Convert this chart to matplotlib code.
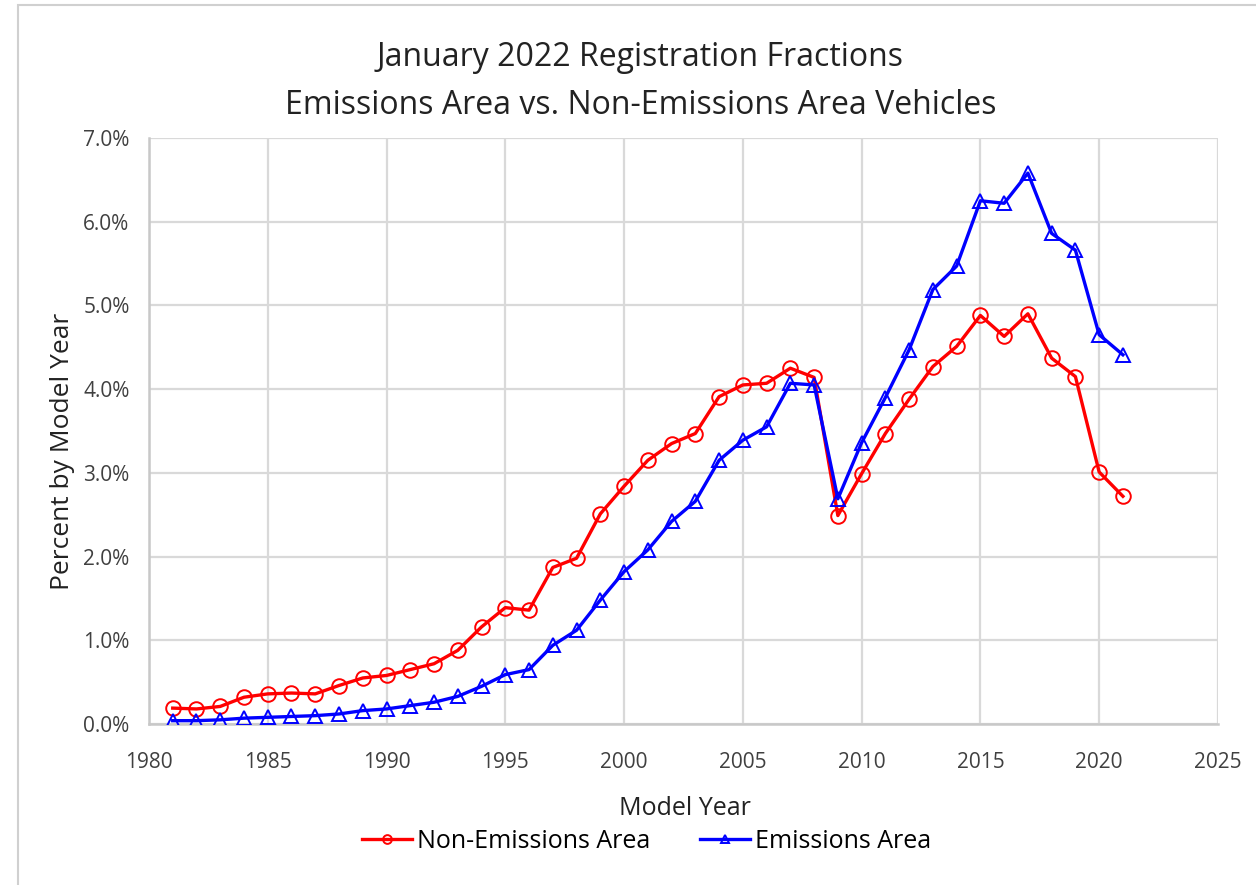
import numpy as np
import matplotlib.pyplot as plt
from matplotlib.ticker import FuncFormatter, MultipleLocator
from matplotlib.patches import Rectangle

years = list(range(1981, 2022))

# percent of registrations by model year
non_emissions = [0.19, 0.18, 0.21, 0.32, 0.36, 0.37, 0.36, 0.46, 0.55, 0.58,
                 0.65, 0.72, 0.88, 1.16, 1.39, 1.36, 1.87, 1.98, 2.51, 2.84,
                 3.15, 3.35, 3.47, 3.91, 4.05, 4.07, 4.25, 4.14, 2.49, 2.99,
                 3.47, 3.88, 4.27, 4.51, 4.88, 4.63, 4.90, 4.37, 4.15, 3.01,
                 2.72]
emissions = [0.04, 0.04, 0.05, 0.07, 0.08, 0.09, 0.10, 0.12, 0.16, 0.18,
             0.22, 0.26, 0.33, 0.45, 0.59, 0.65, 0.94, 1.12, 1.48, 1.82,
             2.08, 2.42, 2.66, 3.15, 3.39, 3.55, 4.07, 4.05, 2.69, 3.36,
             3.90, 4.47, 5.19, 5.47, 6.25, 6.22, 6.58, 5.86, 5.66, 4.65,
             4.41]

plt.rcParams['font.family'] = ['Open Sans', 'DejaVu Sans']

fig = plt.figure(figsize=(12.56, 8.85), dpi=100)
ax = fig.add_axes([0.1186, 0.1819, 0.8511, 0.6622])

# chart area border (top / left edge of the screenshot)
fig.patches.append(Rectangle((0.0145, -0.01), 1.2, 1.0045, transform=fig.transFigure,
                             fill=False, edgecolor='#d0d0d0', linewidth=1.5))

ax.plot(years, non_emissions, color='#ff0000', linewidth=2.4, marker='o',
        markersize=10.5, markerfacecolor='none', markeredgewidth=1.4,
        label='Non-Emissions Area', zorder=3)
ax.plot(years, emissions, color='#0000ff', linewidth=2.4, marker='^',
        markersize=10.5, markerfacecolor='none', markeredgewidth=1.4,
        label='Emissions Area', zorder=3)

ax.set_xlim(1980, 2025)
ax.set_ylim(0, 7)
ax.xaxis.set_major_locator(MultipleLocator(5))
ax.yaxis.set_major_locator(MultipleLocator(1))
ax.yaxis.set_major_formatter(FuncFormatter(lambda v, p: f'{v:.1f}%'))
ax.grid(True, color='#d9d9d9', linewidth=1.6)
ax.set_axisbelow(True)
for s in ax.spines.values():
    s.set_visible(False)
for side in ('bottom', 'left'):
    ax.spines[side].set_visible(True)
    ax.spines[side].set_color('#c8c8c8')
    ax.spines[side].set_linewidth(1.8)
ax.tick_params(length=0, labelsize=15, colors='#404040')
ax.tick_params(axis='x', pad=20)
ax.tick_params(axis='y', pad=14)

fig.text(0.51, 0.9345, 'January 2022 Registration Fractions', ha='center',
         va='center', fontsize=23, color='#222222')
fig.text(0.51, 0.881, 'Emissions Area vs. Non-Emissions Area Vehicles',
         ha='center', va='center', fontsize=23, color='#222222')

fig.text(0.545, 0.087, 'Model Year', ha='center', va='center', fontsize=18,
         color='#222222')
fig.text(0.05, 0.49, 'Percent by Model Year', rotation=90, ha='center',
         va='center', fontsize=19, color='#222222')

fig.legend(loc='center', bbox_to_anchor=(0.515, 0.049), ncol=2, frameon=False,
           fontsize=18, handlelength=2.0, handletextpad=0.2, columnspacing=2.0,
           markerscale=0.6)

fig.savefig('out.png', dpi=100)
